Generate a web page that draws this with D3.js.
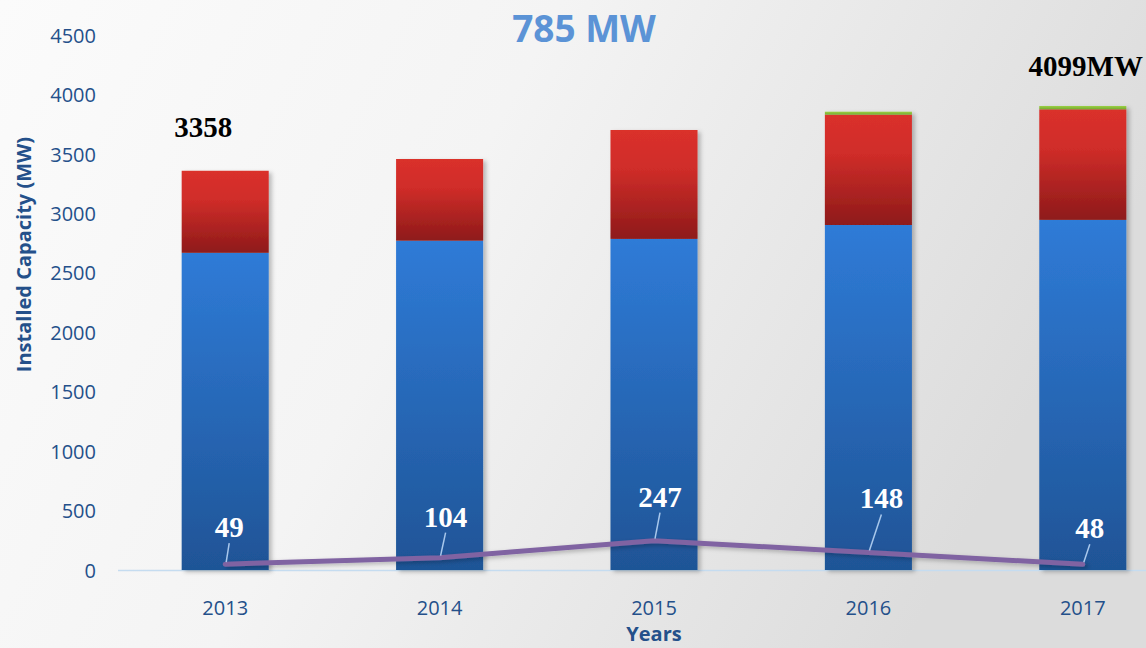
<!DOCTYPE html>
<html>
<head>
<meta charset="utf-8">
<script src="https://cdn.jsdelivr.net/npm/d3@7"></script>
<style>
  body { margin: 0; padding: 0; overflow: hidden; }
  #chart { width: 1146px; height: 648px; }
</style>
</head>
<body>
<div id="chart"></div>
<script>

// Chart data
const years = ["2013", "2014", "2015", "2016", "2017"];
const blueValues = [2668, 2770, 2785, 2902, 2945];
const redValues = [690, 687, 916, 928, 930];
const greenValues = [0, 0, 0, 25, 28];
const lineValues = [49, 104, 247, 148, 48];
const yTicks = [0, 500, 1000, 1500, 2000, 2500, 3000, 3500, 4000, 4500];
const titleText = "785 MW";
const totalLabels = [{year: "2013", text: "3358"}, {year: "2017", text: "4099MW"}];

// dimensions
const width = 1146;
const height = 648;
const margin = {left: 118, right: -44, bottom: 78, top: 35};

const svg = d3.select("#chart")
  .append("svg")
  .attr("width", width)
  .attr("height", height);

const defs = svg.append("defs");

// background gradient
const bg = defs.append("linearGradient").attr("id", "bg")
  .attr("x1", 0).attr("y1", 0).attr("x2", 1).attr("y2", 0.3);
bg.append("stop").attr("offset", "0%").attr("stop-color", "#fbfbfb");
bg.append("stop").attr("offset", "45%").attr("stop-color", "#f4f4f4");
bg.append("stop").attr("offset", "100%").attr("stop-color", "#dcdcdc");

// bar gradients
const gBlue = defs.append("linearGradient").attr("id", "gBlue")
  .attr("x1", 0).attr("y1", 0).attr("x2", 0).attr("y2", 1);
gBlue.append("stop").attr("offset", "0%").attr("stop-color", "#2f7bd7");
gBlue.append("stop").attr("offset", "100%").attr("stop-color", "#1f5496");

const gRed = defs.append("linearGradient").attr("id", "gRed")
  .attr("x1", 0).attr("y1", 0).attr("x2", 0).attr("y2", 1);
gRed.append("stop").attr("offset", "0%").attr("stop-color", "#da302c");
gRed.append("stop").attr("offset", "35%").attr("stop-color", "#d02d29");
gRed.append("stop").attr("offset", "100%").attr("stop-color", "#8e1a1a");

const gGreen = defs.append("linearGradient").attr("id", "gGreen")
  .attr("x1", 0).attr("y1", 0).attr("x2", 0).attr("y2", 1);
gGreen.append("stop").attr("offset", "0%").attr("stop-color", "#9ccf45");
gGreen.append("stop").attr("offset", "100%").attr("stop-color", "#74ab2e");

const shadow = defs.append("filter").attr("id", "shadow")
  .attr("x", "-10%").attr("y", "-10%").attr("width", "130%").attr("height", "130%");
shadow.append("feDropShadow").attr("dx", 3).attr("dy", 2)
  .attr("stdDeviation", 2).attr("flood-color", "#000").attr("flood-opacity", 0.25);

svg.append("rect")
  .attr("width", width).attr("height", height)
  .attr("fill", "url(#bg)");

// scales
const yScale = d3.scaleLinear()
  .domain([0, 4500])
  .range([height - margin.bottom, margin.top]);

const xScale = d3.scaleBand()
  .domain(years)
  .range([margin.left, width - margin.right])
  .paddingInner(0.594)
  .paddingOuter(0.297);

// y axis
const yAxis = svg.append("g")
  .attr("transform", `translate(96, 0)`)
  .call(d3.axisLeft(yScale).tickValues(yTicks).tickFormat(d3.format("d")).tickSize(0).tickPadding(0));
yAxis.select(".domain").remove();
yAxis.selectAll("text")
  .attr("font-family", "'Open Sans', sans-serif")
  .attr("font-size", "20px")
  .attr("fill", "#24508a")
  .attr("dy", "0.36em");

// axis baseline
svg.append("line")
  .attr("x1", margin.left).attr("x2", width)
  .attr("y1", yScale(0) + 0.5).attr("y2", yScale(0) + 0.5)
  .attr("stroke", "#c5dcf0").attr("stroke-width", 1.5);

// x axis
const xAxis = svg.append("g")
  .attr("transform", `translate(0, ${yScale(0) + 31})`)
  .call(d3.axisBottom(xScale).tickSize(0).tickPadding(0));
xAxis.select(".domain").remove();
xAxis.selectAll("text")
  .attr("font-family", "'Open Sans', sans-serif")
  .attr("font-size", "20px")
  .attr("fill", "#24508a")
  .attr("dy", "0.71em");

// axis titles
svg.append("text")
  .attr("transform", `translate(31, ${(yScale(0) + yScale(4500)) / 2 - 48}) rotate(-90)`)
  .attr("text-anchor", "middle")
  .attr("font-family", "'Open Sans', sans-serif")
  .attr("font-weight", "bold")
  .attr("font-size", "20px")
  .attr("fill", "#24508a")
  .text("Installed Capacity (MW)");

svg.append("text")
  .attr("x", xScale("2015") + xScale.bandwidth() / 2)
  .attr("y", 641)
  .attr("text-anchor", "middle")
  .attr("font-family", "'Open Sans', sans-serif")
  .attr("font-weight", "bold")
  .attr("font-size", "20px")
  .attr("fill", "#24508a")
  .text("Years");

// title
svg.append("text")
  .attr("x", 584)
  .attr("y", 42)
  .attr("text-anchor", "middle")
  .attr("font-family", "'Open Sans', sans-serif")
  .attr("font-weight", "bold")
  .attr("font-size", "37px")
  .attr("fill", "#5b93d6")
  .text(titleText);

// stacked bars
const rows = years.map((y, i) => ({year: y, blue: blueValues[i], red: redValues[i], green: greenValues[i]}));
const stack = d3.stack().keys(["blue", "red", "green"]);
const series = stack(rows);
const fills = {blue: "url(#gBlue)", red: "url(#gRed)", green: "url(#gGreen)"};

const barGroup = svg.append("g").attr("filter", "url(#shadow)");
barGroup.selectAll("g")
  .data(series)
  .enter()
  .append("g")
  .attr("fill", d => fills[d.key])
  .selectAll("rect")
  .data(d => d)
  .enter()
  .append("rect")
  .attr("x", d => xScale(d.data.year))
  .attr("y", d => yScale(d[1]))
  .attr("height", d => yScale(d[0]) - yScale(d[1]))
  .attr("width", xScale.bandwidth());

// total labels
svg.selectAll(".total")
  .data(totalLabels)
  .enter()
  .append("text")
  .attr("class", "total")
  .attr("x", (d, i) => i === 0 ? xScale(d.year) + xScale.bandwidth() / 2 - 22 : xScale(d.year) + xScale.bandwidth() / 2 + 3)
  .attr("y", (d, i) => i === 0 ? 137 : 76)
  .attr("text-anchor", "middle")
  .attr("font-family", "'Liberation Serif', 'Times New Roman', serif")
  .attr("font-weight", "bold")
  .attr("font-size", "29px")
  .attr("fill", "#000")
  .text(d => d.text);

// line
const cx = (d, i) => xScale(years[i]) + xScale.bandwidth() / 2;
const line = d3.line()
  .x(cx)
  .y(d => yScale(d));

svg.append("path")
  .datum(lineValues)
  .attr("d", line)
  .attr("fill", "none")
  .attr("stroke", "#8064a2")
  .attr("stroke-width", 5)
  .attr("stroke-linecap", "round")
  .attr("stroke-linejoin", "round")
  .attr("filter", "url(#shadow)");

// line data labels with leader lines
const labelOffsets = [
  {dx: 4, dy: -27},
  {dx: 6, dy: -31},
  {dx: 6, dy: -34},
  {dx: 13, dy: -44},
  {dx: 7, dy: -26}
];

svg.selectAll(".leader")
  .data(lineValues)
  .enter()
  .append("line")
  .attr("class", "leader")
  .attr("x1", (d, i) => cx(d, i) + 1)
  .attr("y1", d => yScale(d) - 2)
  .attr("x2", (d, i) => cx(d, i) + labelOffsets[i].dx)
  .attr("y2", (d, i) => yScale(d) + labelOffsets[i].dy + 6)
  .attr("stroke", "#a9c8ec")
  .attr("stroke-width", 1.5);

svg.selectAll(".lineLabel")
  .data(lineValues)
  .enter()
  .append("text")
  .attr("class", "lineLabel")
  .attr("x", (d, i) => cx(d, i) + labelOffsets[i].dx)
  .attr("y", (d, i) => yScale(d) + labelOffsets[i].dy)
  .attr("text-anchor", "middle")
  .attr("font-family", "'Liberation Serif', 'Times New Roman', serif")
  .attr("font-weight", "bold")
  .attr("font-size", "29px")
  .attr("fill", "#fff")
  .text(d => d);

</script>
</body>
</html>
